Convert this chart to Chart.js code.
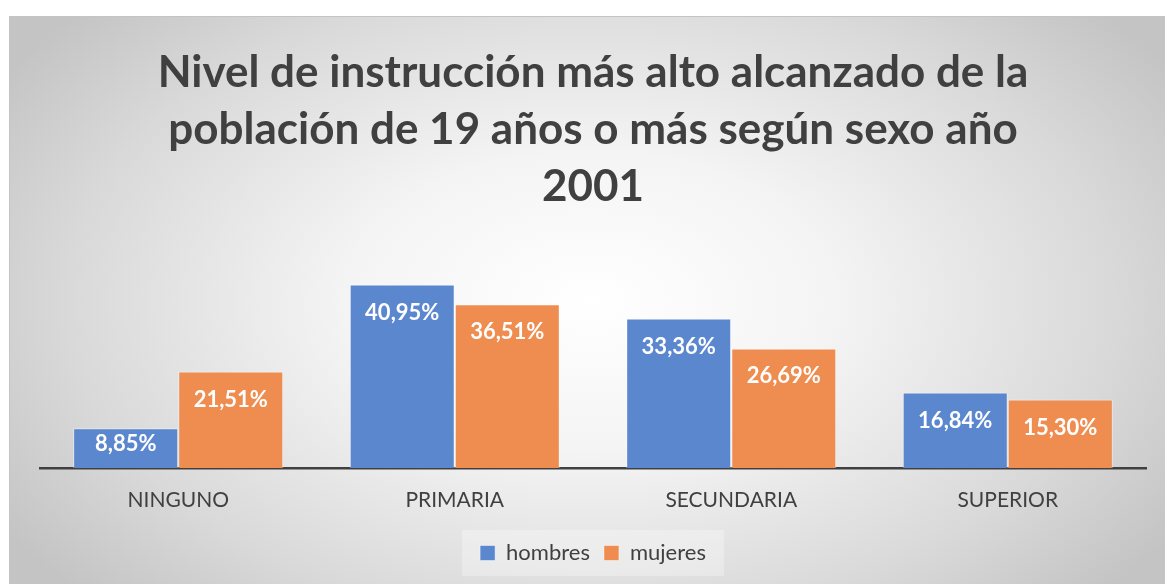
<!DOCTYPE html>
<html>
<head>
<meta charset="utf-8">
<script src="https://cdn.jsdelivr.net/npm/chart.js@4.4.1/dist/chart.umd.min.js"></script>
<style>
  html, body { margin:0; padding:0; background:#ffffff; width:1165px; height:584px; overflow:hidden; }
  #box {
    position:absolute; left:9px; top:16px; width:1160px; height:570px;
    border-top:1px solid #c4c4c4; border-left:1px solid #c4c4c4;
    background: radial-gradient(ellipse 60% 75% at 50% 50%, #ffffff 0%, #f4f4f4 35%, #d9d9d9 75%, #c4c4c4 100%);
  }
  canvas { display:block; }
</style>
</head>
<body>
<div id="box"><canvas id="c"></canvas></div>
<script>
const titleLines = ["Nivel de instrucción más alto alcanzado de la", "población de 19 años o más según sexo año", "2001"];
const categories = ["NINGUNO", "PRIMARIA", "SECUNDARIA", "SUPERIOR"];
const hombres = [8.85, 40.95, 33.36, 16.84];
const mujeres = [21.51, 36.51, 26.69, 15.30];
const seriesNames = ["hombres", "mujeres"];

const labelPlugin = {
  id: 'barLabels',
  beforeDraw(chart) {
    const lg = chart.legend;
    if (!lg || !lg.legendHitBoxes || !lg.legendHitBoxes.length) return;
    const hb = lg.legendHitBoxes;
    const x0 = hb[0].left - 18, x1 = hb[hb.length - 1].left + hb[hb.length - 1].width + 18;
    const y0 = hb[0].top - 12, y1 = hb[0].top + hb[0].height + 12;
    const ctx = chart.ctx;
    ctx.save();
    ctx.fillStyle = 'rgba(255,255,255,0.3)';
    ctx.fillRect(x0, y0, x1 - x0, y1 - y0);
    ctx.restore();
  },
  afterDatasetsDraw(chart) {
    const ctx = chart.ctx;
    ctx.save();
    ctx.fillStyle = '#ffffff';
    ctx.font = 'bold 22px Lato';
    ctx.textAlign = 'center';
    ctx.textBaseline = 'middle';
    chart.data.datasets.forEach((ds, i) => {
      const meta = chart.getDatasetMeta(i);
      meta.data.forEach((bar, j) => {
        const v = ds.data[j];
        const txt = v.toFixed(2).replace('.', ',') + '%';
        let y = bar.y + 28;
        if (y > bar.base - 24) y = bar.base - 24;
        ctx.fillText(txt, bar.x, y);
      });
    });
    ctx.restore();
  }
};

new Chart(document.getElementById('c'), {
  type: 'bar',
  data: {
    labels: categories,
    datasets: [
      { label: seriesNames[0], data: hombres, backgroundColor: '#5B87CE', borderColor: 'rgba(255,255,255,0.45)', borderWidth: 1 },
      { label: seriesNames[1], data: mujeres, backgroundColor: '#EE8D4F', borderColor: 'rgba(255,255,255,0.45)', borderWidth: 1 }
    ]
  },
  options: {
    responsive: true,
    maintainAspectRatio: false,
    animation: false,
    layout: { padding: { left: 30, right: 24, top: 0, bottom: 13 } },
    datasets: { bar: { categoryPercentage: 0.76, barPercentage: 1.0 } },
    scales: {
      x: {
        grid: { display: false, drawTicks: false },
        border: { display: true, color: '#404040', width: 2.5 },
        ticks: { color: '#404040', font: { family: 'Lato', size: 21 }, padding: 20 },
        afterFit(scale) { scale.height = 60; }
      },
      y: {
        display: false,
        min: 0, max: 49.4
      }
    },
    plugins: {
      title: {
        display: true,
        text: titleLines,
        color: '#404040',
        font: { family: 'Lato', size: 44, weight: 'bold', lineHeight: 1.3 },
        padding: { top: 27, bottom: 31 }
      },
      legend: {
        position: 'bottom',
        labels: { color: '#404040', font: { family: 'Lato', size: 22 }, boxWidth: 15, boxHeight: 15, padding: 14 }
      },
      tooltip: { enabled: false }
    }
  },
  plugins: [labelPlugin]
});
</script>
</body>
</html>
